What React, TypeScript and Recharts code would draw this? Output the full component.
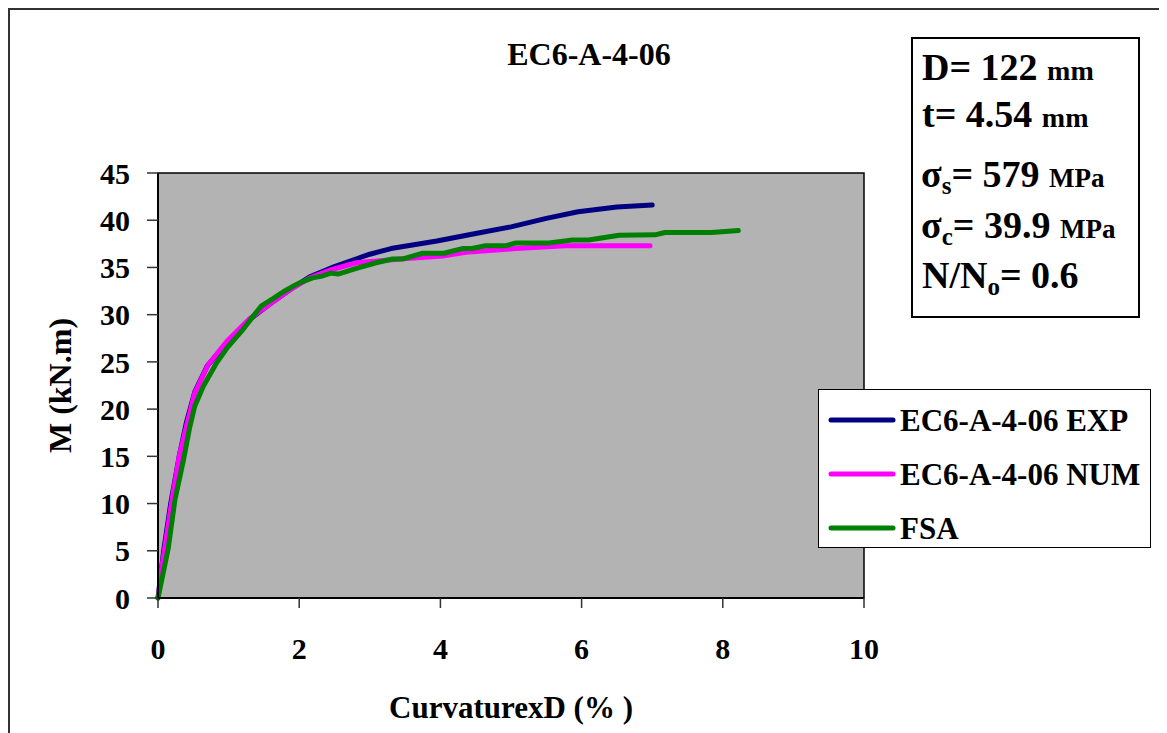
import React from 'react';
import {
  LineChart, Line, XAxis, YAxis, ReferenceArea, Legend, Label,
} from 'recharts';

// values
const EXP_X = [0, 0.08, 0.18, 0.3, 0.4, 0.52, 0.7, 1.0, 1.3, 1.6, 1.9, 2.15, 2.5, 3.0, 3.3, 3.95, 4.5, 5.0, 5.5, 5.95, 6.5, 7.0];
const EXP_Y = [0, 5, 10, 15, 18.5, 21.8, 24.6, 27.2, 29.5, 31.2, 32.8, 34.0, 35.1, 36.4, 37.0, 37.8, 38.6, 39.3, 40.2, 40.9, 41.4, 41.6];

const NUM_X = [0, 0.05, 0.19, 0.3, 0.4, 0.52, 0.71, 0.99, 1.3, 1.51, 1.86, 2.15, 2.43, 2.81, 3.28, 3.42, 4.03, 4.36, 5.07, 5.77, 6.97];
const NUM_Y = [0, 3, 10, 15, 18.1, 21.7, 24.7, 27.3, 29.6, 30.7, 32.6, 33.9, 34.7, 35.5, 35.8, 35.9, 36.2, 36.6, 37.0, 37.3, 37.3];

const FSA_X = [0, 0.146, 0.24, 0.36, 0.45, 0.52, 0.64, 0.83, 0.99, 1.2, 1.46, 1.63, 1.77, 1.91, 2.05, 2.19, 2.33, 2.45, 2.55, 2.81, 3.09, 3.32, 3.47, 3.75, 4.05, 4.31, 4.45, 4.64, 4.93, 5.07, 5.54, 5.87, 6.1, 6.53, 7.04, 7.18, 7.84, 8.22];
const FSA_Y = [0, 5.3, 10.4, 14.6, 18.1, 20.3, 22.4, 24.9, 26.6, 28.4, 30.9, 31.7, 32.4, 33.0, 33.5, 33.9, 34.1, 34.4, 34.3, 34.9, 35.5, 35.9, 35.9, 36.5, 36.5, 37.0, 37.0, 37.3, 37.3, 37.6, 37.6, 37.9, 37.9, 38.4, 38.45, 38.7, 38.7, 38.9];

const X_TICKS = [0, 2, 4, 6, 8, 10];
const Y_TICKS = [0, 5, 10, 15, 20, 25, 30, 35, 40, 45];

const SERIES_NAMES = ['EC6-A-4-06 EXP', 'EC6-A-4-06 NUM', 'FSA'];
const SERIES_COLORS = ['#000080', '#FF00FF', '#008000'];

const toPoints = (xs: number[], ys: number[]) => xs.map((x, i) => ({ x, y: ys[i] }));

const FONT = '"Liberation Serif", "Times New Roman", serif';
const W = 1153;
const H = 725;

const renderLegend = (props: any) => {
  const items = props.payload || [];
  return (
    <div style={{ width: 331, height: 157, border: '1.5px solid #000', background: '#fff' }}>
      <svg width={331} height={157}>
        {items.map((it: any, i: number) => (
          <g key={i}>
            <line x1={12} x2={74} y1={30 + i * 54} y2={30 + i * 54} stroke={it.color} strokeWidth={5} strokeLinecap="round" />
            <text x={81} y={41 + i * 54} fontFamily={FONT} fontWeight="bold" fontSize={31} fill="#000">
              {it.value}
            </text>
          </g>
        ))}
      </svg>
    </div>
  );
};

export default function App() {
  const tickStyle = { fontFamily: FONT, fontWeight: 'bold', fontSize: 30, fill: '#000' };
  const series = [toPoints(EXP_X, EXP_Y), toPoints(NUM_X, NUM_Y), toPoints(FSA_X, FSA_Y)];

  return (
    <div style={{ position: 'relative', width: W, height: H + 20, border: '2px solid #333', background: '#fff' }}>
      <LineChart width={W} height={H} margin={{ top: 163, right: 299, bottom: 67, left: 0 }}>
        <ReferenceArea x1={0} x2={10} y1={0} y2={45} fill="#b3b3b3" fillOpacity={1} stroke="#000" strokeWidth={1.5} />
        <XAxis
          type="number"
          dataKey="x"
          domain={[0, 10]}
          ticks={X_TICKS}
          height={70}
          tickSize={10}
          tickMargin={30}
          tick={tickStyle}
          axisLine={{ stroke: '#000', strokeWidth: 2 }}
          tickLine={{ stroke: '#333', strokeWidth: 1.5 }}
        >
          <Label
            content={({ viewBox }: any) => (
              <text x={viewBox.x + viewBox.width / 2} y={viewBox.y + 120} textAnchor="middle"
                fontFamily={FONT} fontWeight="bold" fontSize={31} fill="#000">
                CurvaturexD (% )
              </text>
            )}
          />
        </XAxis>
        <YAxis
          type="number"
          dataKey="y"
          domain={[0, 45]}
          ticks={Y_TICKS}
          width={148}
          tickSize={11}
          tickMargin={17}
          tick={tickStyle}
          axisLine={{ stroke: '#000', strokeWidth: 2 }}
          tickLine={{ stroke: '#333', strokeWidth: 1.5 }}
        >
          <Label
            content={({ viewBox }: any) => {
              const cx = 61;
              const cy = viewBox.y + viewBox.height / 2;
              return (
                <text x={cx} y={cy} textAnchor="middle" transform={`rotate(-90 ${cx} ${cy})`}
                  fontFamily={FONT} fontWeight="bold" fontSize={32} fill="#000">
                  M (kN.m)
                </text>
              );
            }}
          />
        </YAxis>
        {series.map((pts, i) => (
          <Line
            key={SERIES_NAMES[i]}
            data={pts}
            dataKey="y"
            name={SERIES_NAMES[i]}
            type="linear"
            stroke={SERIES_COLORS[i]}
            strokeWidth={5}
            strokeLinecap="round"
            strokeLinejoin="round"
            dot={false}
            activeDot={false}
            isAnimationActive={false}
          />
        ))}
        <Legend
          layout="horizontal"
          align="center"
          verticalAlign="middle"
          wrapperStyle={{ left: 808, top: 379, width: 333, height: 159 }}
          content={renderLegend}
        />
      </LineChart>

      <svg width={W} height={H} style={{ position: 'absolute', left: 0, top: 0, pointerEvents: 'none' }}>
        <text x={579} y={55} textAnchor="middle" fontFamily={FONT} fontWeight="bold" fontSize={32} fill="#000">
          EC6-A-4-06
        </text>
        <rect x={902} y={28} width={227} height={279} fill="#fff" stroke="#000" strokeWidth={2} />
        <g fontFamily={FONT} fontWeight="bold" fill="#000">
          <text x={912} y={70} fontSize={38}>D= 122 <tspan fontSize={28}>mm</tspan></text>
          <text x={912} y={117} fontSize={38}>t= 4.54 <tspan fontSize={28}>mm</tspan></text>
          <text x={911} y={177} fontSize={38}>
            σ<tspan fontSize={25} dy={7}>s</tspan><tspan dy={-7}>= 579 </tspan><tspan fontSize={27}>MPa</tspan>
          </text>
          <text x={911} y={228} fontSize={38}>
            σ<tspan fontSize={25} dy={7}>c</tspan><tspan dy={-7}>= 39.9 </tspan><tspan fontSize={27}>MPa</tspan>
          </text>
          <text x={912} y={278} fontSize={38}>
            N/N<tspan fontSize={25} dy={7}>o</tspan><tspan dy={-7}>= 0.6</tspan>
          </text>
        </g>
      </svg>
    </div>
  );
}
